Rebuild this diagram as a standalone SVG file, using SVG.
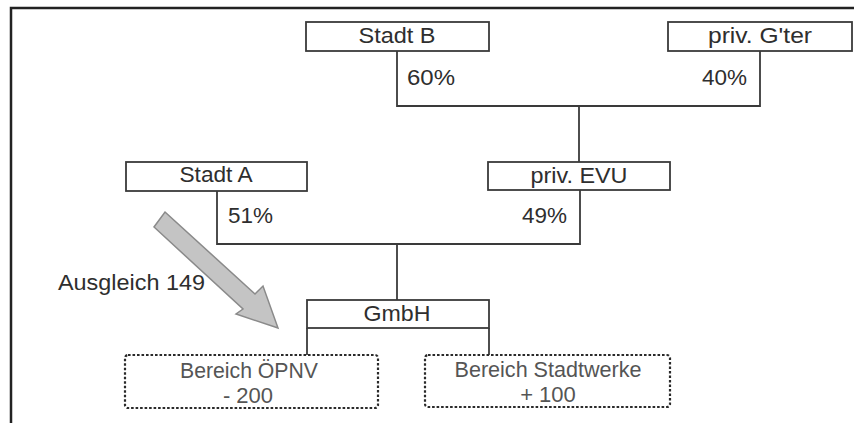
<svg xmlns="http://www.w3.org/2000/svg" width="854" height="423" viewBox="0 0 854 423">
<style>
.box{fill:#fff;stroke:#3a3a3a;stroke-width:1.8}
.dbox{fill:#fff;stroke:#2a2a2a;stroke-width:2.2;stroke-dasharray:2.6 1.9}
.ln{fill:none;stroke:#3a3a3a;stroke-width:1.8}
text{font-family:"Liberation Sans",Arial,sans-serif;font-size:22px;fill:#2e2e2e}
.c{text-anchor:middle}
.g{fill:#555}
</style>
<rect x="0" y="0" width="854" height="423" fill="#fff"/>
<g id="frame"><path d="M11,423 V8 H854" fill="none" stroke="#222" stroke-width="2.5"/></g>
<g id="connectors">
<path class="ln" d="M397,51 V106 H760 V51"/>
<path class="ln" d="M579,106 V162"/>
<path class="ln" d="M217,191 V244 H580 V190"/>
<path class="ln" d="M397,244 V300"/>
<path class="ln" d="M307,328 V355"/>
<path class="ln" d="M489,328 V355"/>
</g>
<g id="stadt-b"><rect class="box" x="306" y="22" width="183" height="29"/><text class="c" x="397" y="43" textLength="77" lengthAdjust="spacingAndGlyphs">Stadt B</text></g>
<g id="priv-gter"><rect class="box" x="668" y="22" width="184" height="29"/><text class="c" x="760" y="43" textLength="104" lengthAdjust="spacingAndGlyphs">priv. G'ter</text></g>
<g id="stadt-a"><rect class="box" x="126" y="162" width="181" height="29"/><text class="c" x="216" y="182" textLength="73" lengthAdjust="spacingAndGlyphs">Stadt A</text></g>
<g id="priv-evu"><rect class="box" x="488" y="162" width="182" height="28"/><text class="c" x="579" y="183" textLength="97" lengthAdjust="spacingAndGlyphs">priv. EVU</text></g>
<g id="gmbh"><rect class="box" x="307" y="300" width="182" height="28"/><text class="c" x="397" y="321" textLength="67" lengthAdjust="spacingAndGlyphs">GmbH</text></g>
<g id="bereich-oepnv"><rect class="dbox" x="125" y="355" width="253" height="53" rx="3"/><text class="c g" x="249" y="378" textLength="138" lengthAdjust="spacingAndGlyphs">Bereich ÖPNV</text><text class="c g" x="248" y="403">- 200</text></g>
<g id="bereich-stadtwerke"><rect class="dbox" x="425" y="355" width="245" height="52" rx="3"/><text class="c g" x="548" y="377" textLength="187" lengthAdjust="spacingAndGlyphs">Bereich Stadtwerke</text><text class="c g" x="548" y="402">+ 100</text></g>
<g id="labels">
<text x="407" y="85" textLength="48" lengthAdjust="spacingAndGlyphs">60%</text>
<text x="702" y="85" textLength="45" lengthAdjust="spacingAndGlyphs">40%</text>
<text x="228" y="223" textLength="45" lengthAdjust="spacingAndGlyphs">51%</text>
<text x="522" y="223" textLength="45" lengthAdjust="spacingAndGlyphs">49%</text>
</g>
<g id="ausgleich">
<polygon points="165,212 255,294 263,286 278,328 236,314 243,309 154,227" fill="#c4c4c4" stroke="#8a8a8a" stroke-width="1.5" stroke-linejoin="miter"/>
<text x="58" y="290" textLength="147" lengthAdjust="spacingAndGlyphs">Ausgleich 149</text>
</g>
</svg>
